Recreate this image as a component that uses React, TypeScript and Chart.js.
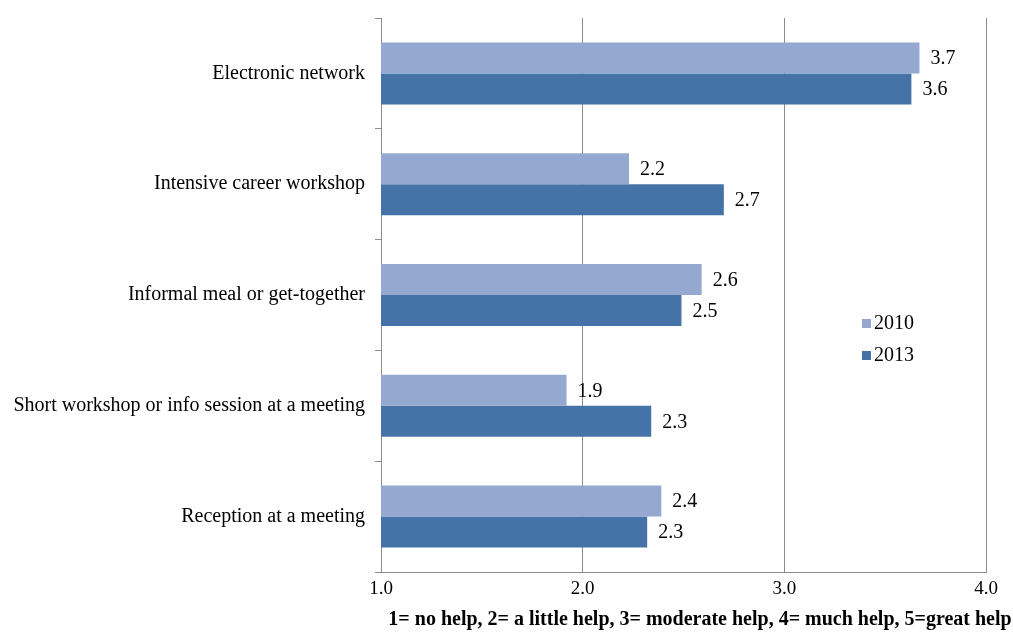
import React, { useEffect, useRef } from "react";
import { Chart, registerables } from "chart.js";

Chart.register(...registerables);

const categories = [
  "Electronic network",
  "Intensive career workshop",
  "Informal meal or get-together",
  "Short workshop or info session at a meeting",
  "Reception at a meeting",
];
const series2010 = [3.67, 2.23, 2.59, 1.92, 2.39];
const series2013 = [3.63, 2.7, 2.49, 2.34, 2.32];
const seriesNames = ["2010", "2013"];
const xTicks = [1, 2, 3, 4];
const axisTitle = "1= no help, 2= a little help, 3= moderate help, 4= much help, 5=great help";

const COLORS = ["#95A9D0", "#4573A8"];
const FONT = "'Liberation Serif', 'Times New Roman', serif";
const GRID = "#8c8c8c";

export default function App() {
  const ref = useRef<HTMLCanvasElement | null>(null);

  useEffect(() => {
    document.body.style.margin = "0";
    const canvas = ref.current;
    if (!canvas) return;

    const overlay = {
      id: "overlay",
      afterDatasetsDraw(chart: any) {
        const ctx = chart.ctx;
        ctx.save();
        ctx.font = `20px ${FONT}`;
        ctx.fillStyle = "#000";
        ctx.textBaseline = "middle";
        ctx.textAlign = "left";
        chart.data.datasets.forEach((ds: any, di: number) => {
          const meta = chart.getDatasetMeta(di);
          meta.data.forEach((bar: any, i: number) => {
            const v = ds.data[i] as number;
            ctx.fillText(v.toFixed(1), bar.x + 11, bar.y + 1);
          });
        });
        // legend
        const lx = 862;
        const ly = [323, 355];
        seriesNames.forEach((n, i) => {
          ctx.fillStyle = COLORS[i];
          ctx.fillRect(lx, ly[i] - 4, 9, 9);
          ctx.fillStyle = "#000";
          ctx.fillText(n, lx + 12, ly[i] + 1);
        });
        // axis title
        ctx.font = `bold 20px ${FONT}`;
        ctx.textAlign = "center";
        ctx.fillText(axisTitle, 700, 620);
        ctx.restore();
      },
    };

    const chart = new Chart(canvas, {
      type: "bar",
      data: {
        labels: categories,
        datasets: [
          {
            label: seriesNames[0],
            data: series2010,
            backgroundColor: COLORS[0],
            categoryPercentage: 0.56,
            barPercentage: 1.0,
          },
          {
            label: seriesNames[1],
            data: series2013,
            backgroundColor: COLORS[1],
            categoryPercentage: 0.56,
            barPercentage: 1.0,
          },
        ],
      },
      options: {
        indexAxis: "y",
        animation: false,
        responsive: false,
        maintainAspectRatio: false,
        layout: { padding: { top: 18, right: 27, left: 0, bottom: 0 } },
        plugins: {
          legend: { display: false },
          tooltip: { enabled: false },
        },
        scales: {
          x: {
            min: 1,
            max: 4,
            afterBuildTicks: (scale: any) => {
              scale.ticks = xTicks.map((v) => ({ value: v }));
            },
            afterFit: (scale: any) => {
              scale.height = 60;
              scale.paddingLeft = 0;
              scale.paddingRight = 0;
            },
            ticks: {
              callback: (v: any) => Number(v).toFixed(1),
              font: { family: FONT, size: 19 },
              color: "#000",
              padding: 6,
            },
            grid: { color: GRID, drawTicks: false, lineWidth: 1 },
            border: { display: true, color: GRID },
          },
          y: {
            afterFit: (scale: any) => {
              scale.width = 381;
              scale.paddingTop = 0;
              scale.paddingBottom = 0;
            },
            ticks: {
              font: { family: FONT, size: 20 },
              color: "#000",
              padding: 10,
            },
            grid: {
              offset: true,
              drawOnChartArea: false,
              drawTicks: true,
              tickLength: 6,
              color: GRID,
            },
            border: { display: true, color: GRID },
          },
        },
      },
      plugins: [overlay],
    } as any);

    return () => chart.destroy();
  }, []);

  return (
    <div style={{ position: "absolute", left: 0, top: 0, width: 1013, height: 632 }}>
      <canvas ref={ref} width={1013} height={632} style={{ display: "block" }} />
    </div>
  );
}
